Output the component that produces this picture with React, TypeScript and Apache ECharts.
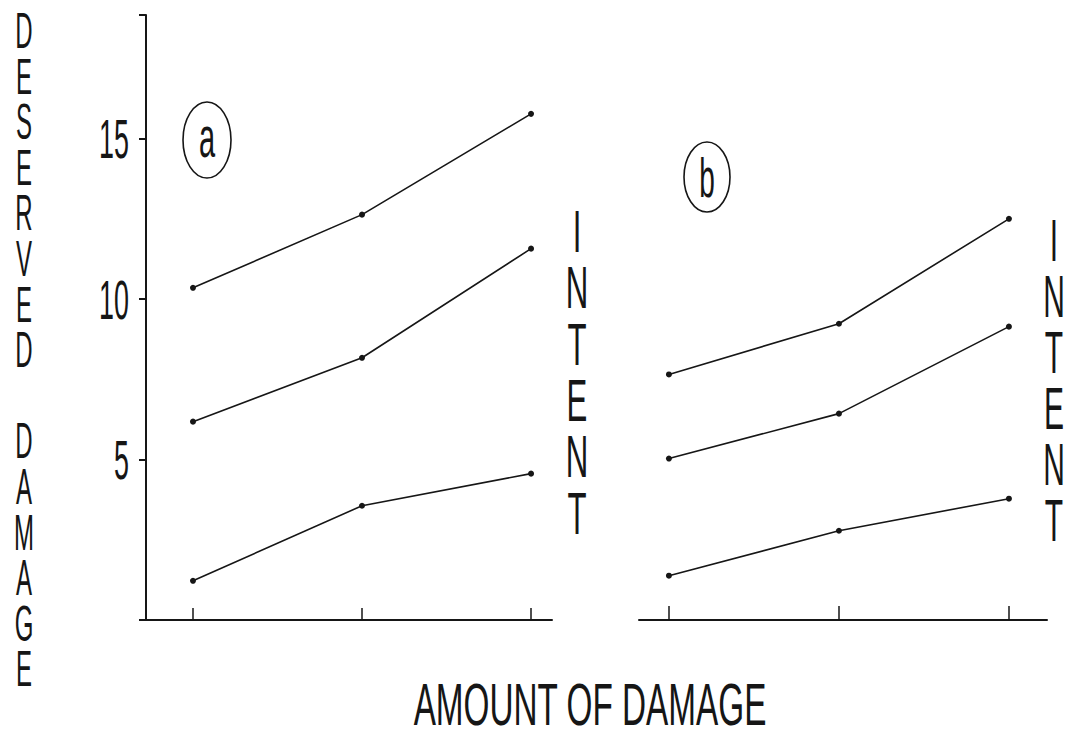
import React, { useEffect, useRef } from "react";
import * as echarts from "echarts";

// Amount-of-damage levels (x positions)
const categories = [1, 2, 3];
// Panel (a): three intent levels
const aHigh = [10.35, 12.63, 15.77];
const aMid = [6.18, 8.17, 11.57];
const aLow = [1.22, 3.56, 4.56];
// Panel (b): three intent levels
const bHigh = [7.65, 9.23, 12.5];
const bMid = [5.03, 6.43, 9.14];
const bLow = [1.38, 2.78, 3.78];
// Y tick labels
const yTicks = [5, 10, 15];
const yTickLabels = ["5", "10", "15"];

const INK = "#161616";
const FONT = '"Liberation Sans", Arial, sans-serif';

const pair = (vals: number[]) => categories.map((c, i) => [c, vals[i]]);

const lineSeries = (name: string, vals: number[], idx: number) => ({
  type: "line",
  name,
  xAxisIndex: idx,
  yAxisIndex: idx,
  data: pair(vals),
  symbol: "circle",
  symbolSize: 6,
  lineStyle: { color: INK, width: 1.6 },
  itemStyle: { color: INK },
  silent: true,
});

export default function App() {
  const ref = useRef<HTMLDivElement>(null);
  useEffect(() => {
    if (!ref.current) return;
    const chart = echarts.init(ref.current, undefined, { renderer: "svg" });
    const yMax = 18.85;
    chart.setOption({
      animation: false,
      backgroundColor: "#ffffff",
      grid: [
        { left: 146, top: 15, width: 406, height: 605 },
        { left: 639, top: 15, width: 408, height: 605 },
      ],
      xAxis: [
        {
          gridIndex: 0,
          type: "value",
          min: 0.722,
          max: 3.124,
          axisLine: { show: true, lineStyle: { color: INK, width: 2 } },
          axisTick: { show: true, inside: true, length: 12, customValues: categories, lineStyle: { color: INK, width: 1.5 } },
          axisLabel: { show: false },
          splitLine: { show: false },
        },
        {
          gridIndex: 1,
          type: "value",
          min: 0.824,
          max: 3.224,
          offset: 3,
          axisLine: { show: true, lineStyle: { color: INK, width: 2 } },
          axisTick: { show: true, inside: true, length: 14, customValues: categories, lineStyle: { color: INK, width: 1.5 } },
          axisLabel: { show: false },
          splitLine: { show: false },
        },
      ],
      yAxis: [
        {
          gridIndex: 0,
          type: "value",
          min: 0,
          max: yMax,
          interval: 5,
          axisLine: { show: true, lineStyle: { color: INK, width: 2 } },
          axisTick: { show: true, length: 7, lineStyle: { color: INK, width: 2 } },
          axisLabel: { show: false },
          splitLine: { show: false },
        },
        {
          gridIndex: 1,
          type: "value",
          min: 0,
          max: yMax,
          show: false,
          splitLine: { show: false },
        },
      ],
      series: [
        lineSeries("a-high", aHigh, 0),
        lineSeries("a-mid", aMid, 0),
        lineSeries("a-low", aLow, 0),
        lineSeries("b-high", bHigh, 1),
        lineSeries("b-mid", bMid, 1),
        lineSeries("b-low", bLow, 1),
      ],
    });

    const tickTexts = yTicks.map((v, i) => {
      const p = chart.convertToPixel({ gridIndex: 0 }, [1, v]) as number[];
      return {
        type: "text",
        x: 129,
        y: p[1],
        scaleX: 0.48,
        style: {
          text: yTickLabels[i],
          fontSize: 56,
          fontFamily: FONT,
          fill: INK,
          align: "right",
          verticalAlign: "middle",
        },
      };
    });

    const txt = (text: string, x: number, y: number, size: number, sx: number, lh?: number) => ({
      type: "text",
      x,
      y,
      scaleX: sx,
      style: {
        text,
        fontSize: size,
        fontFamily: FONT,
        fill: INK,
        align: "center",
        verticalAlign: "middle",
        lineHeight: lh,
      },
    });

    chart.setOption({
      graphic: [
        ...tickTexts,
        {
          type: "ellipse",
          shape: { cx: 207, cy: 140, rx: 24, ry: 38 },
          style: { fill: "none", stroke: INK, lineWidth: 1.6 },
        },
        txt("a", 207, 137, 58, 0.5),
        {
          type: "ellipse",
          shape: { cx: 707, cy: 177, rx: 23, ry: 35 },
          style: { fill: "none", stroke: INK, lineWidth: 1.6 },
        },
        txt("b", 707, 177, 56, 0.5),
        txt("D\nE\nS\nE\nR\nV\nE\nD\n\nD\nA\nM\nA\nG\nE", 24, 350, 50, 0.48, 45.6),
        txt("I\nN\nT\nE\nN\nT", 577, 372, 60, 0.52, 56.4),
        txt("I\nN\nT\nE\nN\nT", 1054, 380, 60, 0.5, 56),
        txt("AMOUNT OF DAMAGE", 590, 704, 60, 0.555),
      ],
    });

    return () => chart.dispose();
  }, []);
  return (
    <div
      ref={ref}
      style={{ position: "fixed", left: 0, top: 0, width: 1068, height: 736, background: "#fff" }}
    />
  );
}
